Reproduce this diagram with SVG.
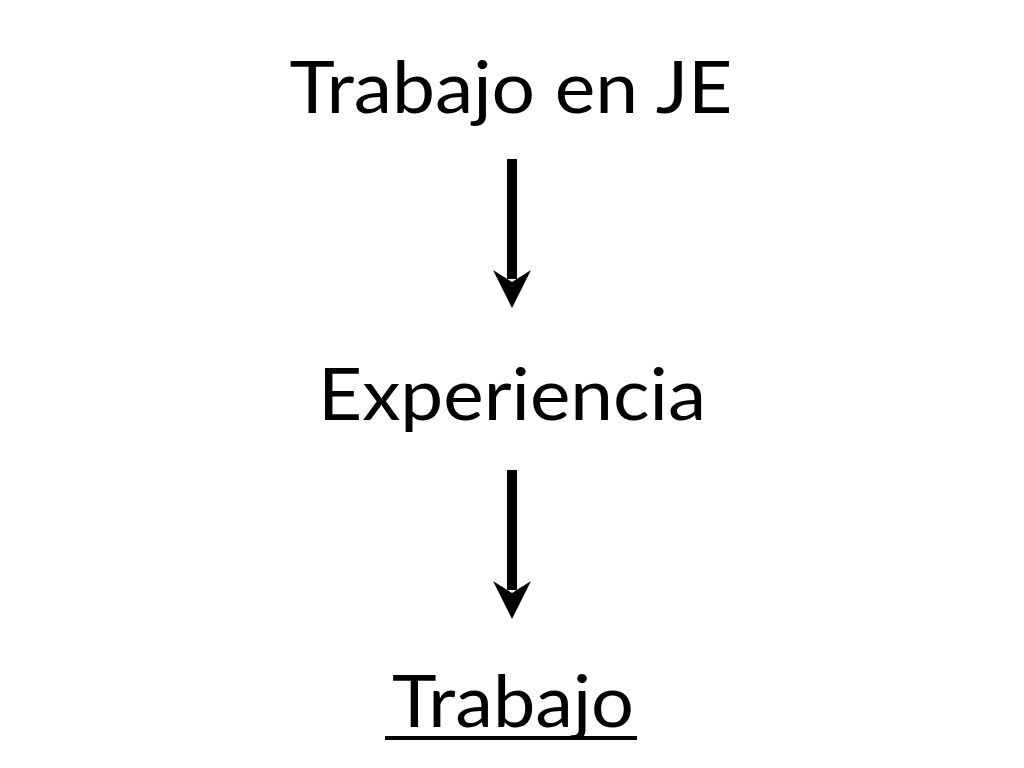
<svg xmlns="http://www.w3.org/2000/svg" width="1024" height="768" viewBox="0 0 1024 768">
<style>
.t{font-family:Lato,"Open Sans","Liberation Sans",sans-serif;font-size:72px;fill:#000;text-anchor:middle}
.shaft{fill:#000}
</style>
<defs>
<path id="head" d="M-19,0 L0,38 L19,0 L0,12 Z" fill="#000"/>
</defs>
<rect width="1024" height="768" fill="#fff"/>
<g id="n1"><text class="t" x="511" y="113" textLength="443" lengthAdjust="spacingAndGlyphs">Trabajo en JE</text></g>
<g id="n2"><text class="t" x="512" y="420" textLength="388" lengthAdjust="spacingAndGlyphs">Experiencia</text></g>
<g id="n3"><text class="t" x="513" y="727" textLength="242" lengthAdjust="spacingAndGlyphs">Trabajo</text><rect x="385" y="736" width="252" height="4" fill="#000"/></g>
<g id="connectors">
<rect class="shaft" x="507" y="159" width="10" height="120"/>
<use href="#head" x="512" y="270"/>
<rect class="shaft" x="507" y="470" width="10" height="120"/>
<use href="#head" x="512" y="581"/>
</g>
</svg>
